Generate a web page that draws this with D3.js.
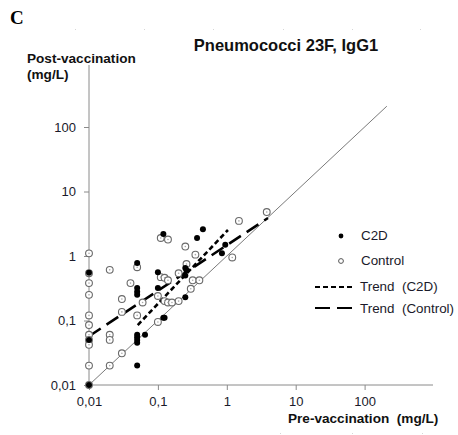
<!DOCTYPE html>
<html><head><meta charset="utf-8">
<script src="https://cdn.jsdelivr.net/npm/d3@7/dist/d3.min.js"></script>
<style>body{margin:0;background:#fff}svg{display:block}text{font-family:"Liberation Sans",Arial,sans-serif;white-space:pre}</style>
</head><body>
<script>
// ---- data ----
const title = "Pneumococci 23F, IgG1";
const xTickValues = [0.01, 0.1, 1, 10, 100];
const xTickLabels = ["0,01", "0,1", "1", "10", "100"];
const yTickValues = [0.01, 0.1, 1, 10, 100];
const yTickLabels = ["0,01", "0,1", "1", "10", "100"];
const controlPre  = [0.01,0.01,0.01,0.01,0.01,0.01,0.01,0.01,0.01,0.01,0.01, 0.02,0.02,0.02,0.02, 0.03,0.03,0.03, 0.04, 0.05,0.05, 0.06, 0.1,0.1, 0.11,0.14, 0.11,0.125,0.14, 0.125,0.14,0.16,0.2, 0.2, 0.25,0.26,0.35, 0.32,0.4,0.3, 1.2,1.5,3.8];
const controlPost = [1.1,0.54,0.38,0.25,0.12,0.085,0.06,0.05,0.042,0.02,0.01, 0.06,0.05,0.02,0.61, 0.031,0.136,0.215, 0.38, 0.12,0.67, 0.19, 0.095,0.24, 1.9,1.8, 0.47,0.46,0.42, 0.2,0.19,0.19,0.2, 0.54, 1.4,0.75,1.05, 0.42,0.42,0.31, 0.95,3.5,4.8];
const c2dPre  = [0.01,0.01,0.01, 0.05, 0.05,0.05,0.05,0.065,0.05, 0.05, 0.12,0.125, 0.12, 0.05, 0.1, 0.05,0.05, 0.1, 0.37,0.45, 0.95,0.85, 0.25,0.26,0.25, 0.25];
const c2dPost = [0.55,0.05,0.01, 0.02, 0.06,0.05,0.045,0.06,0.055, 0.25, 0.11,0.11, 2.2, 0.78, 0.56, 0.32,0.28, 0.32, 1.9,2.6, 1.5,1.1, 0.65,0.6,0.5, 0.23];
const trendC2DPre = [0.051, 1.04];
const trendC2DPost = [0.085, 2.53];
const trendControlPre = [0.01, 3.96];
const trendControlPost = [0.057, 3.88];
const identityEnds = [0.01, 210];
const legendLabels = ["C2D", "Control", "Trend  (C2D)", "Trend  (Control)"];

// ---- drawing ----
const W = 458, H = 435;
const svg = d3.select("body").append("svg").attr("width", W).attr("height", H);
const x = d3.scaleLog().domain([0.01, 100]).range([89, 364.6]);
const y = d3.scaleLog().domain([0.01, 100]).range([385, 127]);
const axisCol = "#8a8a8a";

// faint artifacts
[75,144,213,283,352,420].forEach(px => svg.append("rect").attr("x", px).attr("y", 29).attr("width", 1).attr("height", 1).attr("fill", "#d6d6d6"));
[280,352,422].forEach(px => svg.append("rect").attr("x", px).attr("y", 433).attr("width", 1).attr("height", 1).attr("fill", "#d6d6d6"));

svg.append("text").attr("x", 10).attr("y", 24).text("C")
  .style("font-family", "'Liberation Serif','Times New Roman',serif").style("font-weight", "bold").style("font-size", "19px");
svg.append("text").attr("x", 286).attr("y", 51).attr("text-anchor", "middle").text(title)
  .style("font-weight", "bold").style("font-size", "16.5px").attr("fill", "#111");
svg.append("text").attr("x", 27).attr("y", 63).text("Post-vaccination").style("font-weight", "bold").style("font-size", "13.6px").attr("fill", "#111");
svg.append("text").attr("x", 27).attr("y", 79).text("(mg/L)").style("font-weight", "bold").style("font-size", "13.6px").attr("fill", "#111");
svg.append("text").attr("x", 288).attr("y", 423).text("Pre-vaccination  (mg/L)").style("font-weight", "bold").style("font-size", "13.6px").attr("fill", "#111");

// axes
const xAxis = d3.axisBottom(x).tickValues(xTickValues).tickSize(5).tickPadding(7)
  .tickFormat((d, i) => xTickLabels[i]);
const gx = svg.append("g").attr("transform", "translate(0,385)").call(xAxis);
gx.select(".domain").remove();
gx.append("line").attr("x1", 89).attr("x2", 433).attr("y1", 0).attr("y2", 0).attr("stroke", axisCol);
gx.selectAll(".tick line").attr("stroke", axisCol);
gx.selectAll(".tick text").style("font-size", "13px").style("font-family", "'Liberation Sans',Arial,sans-serif").attr("fill", "#1a1a2a");

const yAxis = d3.axisLeft(y).tickValues(yTickValues).tickSize(5).tickPadding(8)
  .tickFormat((d, i) => yTickLabels[i]);
const gy = svg.append("g").attr("transform", "translate(89,0)").call(yAxis);
gy.select(".domain").remove();
gy.append("line").attr("x1", 0).attr("x2", 0).attr("y1", 65).attr("y2", 385).attr("stroke", axisCol);
gy.selectAll(".tick line").attr("stroke", axisCol);
gy.selectAll(".tick text").style("font-size", "13px").style("font-family", "'Liberation Sans',Arial,sans-serif").attr("fill", "#1a1a2a");

// identity line
svg.append("line").attr("x1", x(identityEnds[0])).attr("y1", y(identityEnds[0]))
  .attr("x2", x(identityEnds[1])).attr("y2", y(identityEnds[1])).attr("stroke", "#7a7a7a").attr("stroke-width", 1);

// trend lines
const line = d3.line().x(d => x(d[0])).y(d => y(d[1]));
svg.append("path").datum(d3.zip(trendControlPre, trendControlPost)).attr("d", line)
  .attr("stroke", "#000").attr("stroke-width", 2.6).attr("stroke-dasharray", "14,7").attr("fill", "none");
svg.append("path").datum(d3.zip(trendC2DPre, trendC2DPost)).attr("d", line)
  .attr("stroke", "#000").attr("stroke-width", 2.6).attr("stroke-dasharray", "5,3").attr("fill", "none");

// points
const ctrl = d3.zip(controlPre, controlPost);
const c2d = d3.zip(c2dPre, c2dPost);
svg.append("g").selectAll("circle").data(ctrl).join("circle")
  .attr("cx", d => x(d[0])).attr("cy", d => y(d[1])).attr("r", 3.4)
  .attr("fill", "#fff").attr("stroke", "#6a6a6a").attr("stroke-width", 1.1);
svg.append("g").selectAll("circle").data(ctrl).join("circle")
  .attr("cx", d => x(d[0])).attr("cy", d => y(d[1])).attr("r", 0.8).attr("fill", "#aaa");
svg.append("g").selectAll("circle").data(c2d).join("circle")
  .attr("cx", d => x(d[0])).attr("cy", d => y(d[1])).attr("r", 3).attr("fill", "#000");

// legend
const lg = svg.append("g").style("font-size", "13.4px").attr("fill", "#1a1a2a");
lg.append("circle").attr("cx", 341).attr("cy", 236).attr("r", 2.4).attr("fill", "#000");
lg.append("circle").attr("cx", 341).attr("cy", 261).attr("r", 2.4).attr("fill", "#fff").attr("stroke", "#555").attr("stroke-width", 1);
lg.append("line").attr("x1", 315).attr("x2", 355).attr("y1", 287).attr("y2", 287).attr("stroke", "#000").attr("stroke-width", 1.8).attr("stroke-dasharray", "5,3");
lg.append("line").attr("x1", 315).attr("x2", 353).attr("y1", 308).attr("y2", 308).attr("stroke", "#000").attr("stroke-width", 2.2).attr("stroke-dasharray", "15,7");
[[361,240],[361,265],[360,291],[360,313]].forEach((p, i) =>
  lg.append("text").attr("x", p[0]).attr("y", p[1]).text(legendLabels[i]).attr("fill", "#1a1a2a"));
</script>
</body></html>
